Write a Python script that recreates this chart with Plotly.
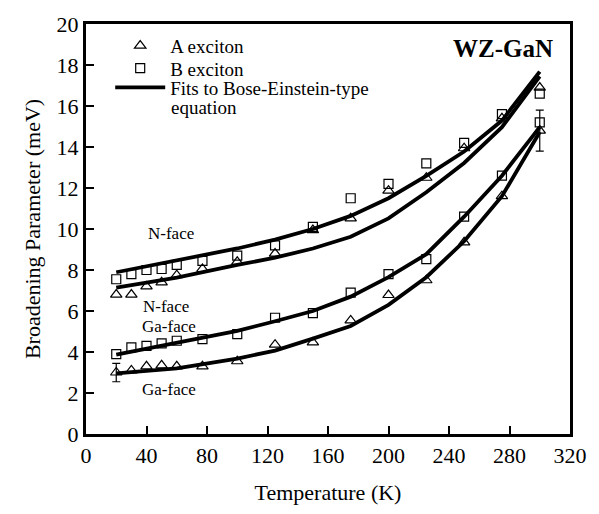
import plotly.graph_objects as go

# Measured data (temperature in K, broadening in meV)
T_data = [20, 30, 40, 50, 60, 77, 100, 125, 150, 175, 200, 225, 250, 275, 300]
A_Nface = [6.8, 6.8, 7.2, 7.4, 7.75, 8.05, 8.4, 8.8, 9.95, 10.52, 11.87, 12.5, 13.94, 15.4, 16.9]
B_Nface = [7.55, 7.8, 8.0, 8.05, 8.25, 8.45, 8.7, 9.2, 10.1, 11.5, 12.2, 13.2, 14.2, 15.6, 16.6]
A_Gaface = [3.0, 3.1, 3.3, 3.35, 3.3, 3.3, 3.55, 4.36, 4.47, 5.54, 6.78, 7.5, 9.35, 11.6, 14.8]
B_Gaface = [3.9, 4.23, 4.3, 4.42, 4.55, 4.63, 4.87, 5.67, 5.9, 6.9, 7.8, 8.53, 10.6, 12.6, 15.2]

# error bars on A Ga-face
T_err = [20, 300]
A_Gaface_err_val = [3.0, 14.8]
A_Gaface_err = [0.45, 1.0]

# Bose-Einstein-type fits
T_fit = [20, 60, 100, 125, 150, 175, 200, 225, 250, 275, 300]
fit_B_Nface = [7.89, 8.48, 9.05, 9.48, 10.0, 10.64, 11.5, 12.59, 13.78, 15.29, 17.68]
fit_A_Nface = [7.14, 7.63, 8.25, 8.6, 9.05, 9.62, 10.52, 11.79, 13.22, 14.97, 17.45]
fit_B_Gaface = [3.87, 4.47, 5.03, 5.5, 6.0, 6.7, 7.65, 8.77, 10.6, 12.6, 14.97]
fit_A_Gaface = [2.96, 3.2, 3.68, 4.07, 4.65, 5.27, 6.3, 7.65, 9.4, 11.6, 14.73]

x_ticks = [0, 40, 80, 120, 160, 200, 240, 280, 320]
y_ticks = [0, 2, 4, 6, 8, 10, 12, 14, 16, 18, 20]

FONT = "Liberation Serif"
fig = go.Figure()

line_style = dict(color="black", width=3.8)
fits = [fit_B_Nface, fit_A_Nface, fit_B_Gaface, fit_A_Gaface]
for i, f in enumerate(fits):
    fig.add_trace(go.Scatter(x=T_fit, y=f, mode="lines", line=line_style,
                             name="Fits to Bose-Einstein-type",
                             showlegend=(i == 0), legend="legend3"))

tri = dict(symbol="triangle-up-open", size=10, color="black", line=dict(width=1.2, color="black"))
sq = dict(symbol="square-open", size=9, color="black", line=dict(width=1.2, color="black"))

fig.add_trace(go.Scatter(x=T_data, y=A_Nface, mode="markers", marker=tri,
                         name="A exciton", showlegend=True, legend="legend"))
fig.add_trace(go.Scatter(x=T_data, y=A_Gaface, mode="markers", marker=tri,
                         name="A exciton", showlegend=False))
fig.add_trace(go.Scatter(x=T_data, y=B_Nface, mode="markers", marker=sq,
                         name="B exciton", showlegend=True, legend="legend2"))
fig.add_trace(go.Scatter(x=T_data, y=B_Gaface, mode="markers", marker=sq,
                         name="B exciton", showlegend=False))
fig.add_trace(go.Scatter(x=T_err, y=A_Gaface_err_val, mode="markers",
                         marker=dict(size=1, color="rgba(0,0,0,0)"),
                         error_y=dict(type="data", array=A_Gaface_err, visible=True,
                                      color="black", thickness=1.2, width=4),
                         showlegend=False))

labels = [("N-face", 56, 9.8), ("N-face", 53, 6.22), ("Ga-face", 55, 5.24), ("Ga-face", 55, 2.16)]
for txt, xx, yy in labels:
    fig.add_annotation(x=xx, y=yy, text=txt, showarrow=False,
                       font=dict(family=FONT, size=17, color="black"))

fig.add_annotation(x=0.969, y=0.94, xref="paper", yref="paper", xanchor="right", yanchor="middle",
                   text="<b>WZ-GaN</b>", showarrow=False,
                   font=dict(family=FONT, size=25, color="black"))

# second line of the fit legend entry
fig.add_annotation(x=0.172, y=0.796, xref="paper", yref="paper", xanchor="left", yanchor="middle",
                   text="equation", showarrow=False,
                   font=dict(family=FONT, size=19, color="black"))

axis_common = dict(showline=True, linewidth=3, linecolor="black", mirror=True,
                   ticks="inside", ticklen=8, tickwidth=2, tickcolor="black",
                   showgrid=False, zeroline=False,
                   tickfont=dict(family=FONT, size=22, color="black"))

fig.update_xaxes(range=[0, 320], tickvals=x_ticks, ticktext=[str(v) for v in x_ticks],
                 title=dict(text="Temperature (K)", font=dict(family=FONT, size=22, color="black"),
                            standoff=18),
                 **axis_common)
fig.update_yaxes(range=[0, 20], tickvals=y_ticks, ticktext=[str(v) for v in y_ticks],
                 title=dict(text="Broadening Parameter (meV)", font=dict(family=FONT, size=22, color="black"),
                            standoff=10),
                 **axis_common)

leg_common = dict(x=0.05, xanchor="left", yanchor="middle",
                  bgcolor="rgba(0,0,0,0)", font=dict(family=FONT, size=19, color="black"),
                  itemwidth=50)
fig.update_layout(
    width=599, height=514,
    margin=dict(l=86, r=26, t=18, b=77),
    plot_bgcolor="white", paper_bgcolor="white",
    legend=dict(y=0.947, **leg_common),
    legend2=dict(y=0.892, **leg_common),
    legend3=dict(y=0.845, **leg_common),
)

fig.write_html("out.html")
